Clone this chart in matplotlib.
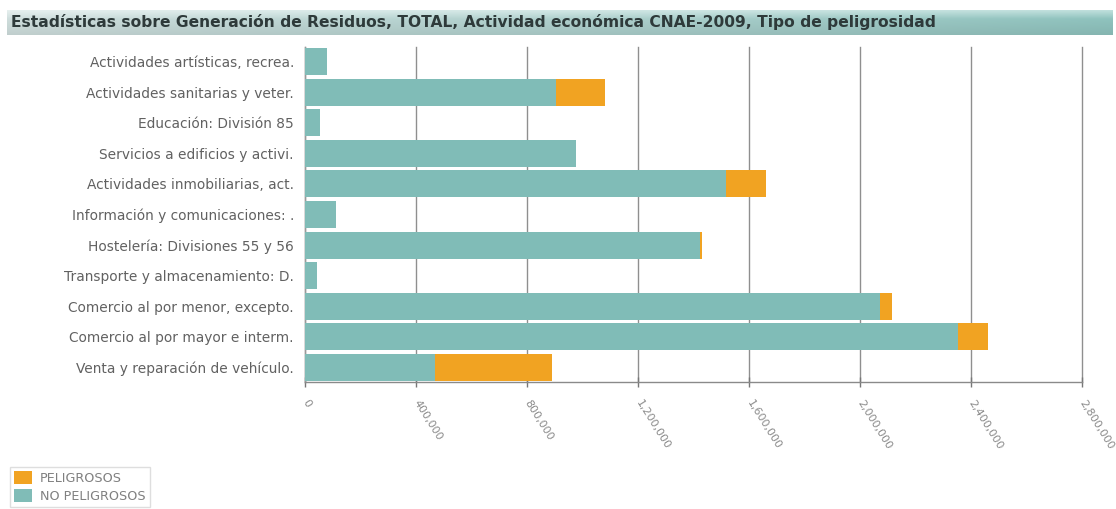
import numpy as np
import matplotlib
matplotlib.use("Agg")
import matplotlib.pyplot as plt
from matplotlib.patches import Patch
from matplotlib.ticker import FuncFormatter, MultipleLocator

# Waste generation by economic activity (tonnes), split by hazard type
categories = [
    "Actividades artísticas, recrea.",
    "Actividades sanitarias y veter.",
    "Educación: División 85",
    "Servicios a edificios y activi.",
    "Actividades inmobiliarias, act.",
    "Información y comunicaciones: .",
    "Hostelería: Divisiones 55 y 56",
    "Transporte y almacenamiento: D.",
    "Comercio al por menor, excepto.",
    "Comercio al por mayor e interm.",
    "Venta y reparación de vehículo.",
]
no_peligrosos = [80000, 905000, 54000, 977000, 1517000, 112000, 1425000,
                 43000, 2072000, 2353000, 468000]
peligrosos = [0, 176000, 0, 0, 144000, 0, 6000, 0, 43000, 108000, 422000]

title = ("Estadísticas sobre Generación de Residuos, TOTAL, "
         "Actividad económica CNAE-2009, Tipo de peligrosidad")

TEAL = "#80bcb7"
ORANGE = "#f1a322"
GRID = "#8f8f8f"
LABEL = "#616161"

W, H = 1116, 509
fig = plt.figure(figsize=(W / 100, H / 100), dpi=100)
fig.patch.set_facecolor("white")

# Title banner with a soft teal gradient
bx0, by0, bx1, by1 = 7, 10, 1113, 35
bar_ax = fig.add_axes([bx0 / W, 1 - by1 / H, (bx1 - bx0) / W, (by1 - by0) / H])
nx, ny = 256, 32
left_c = np.array([0.84, 0.90, 0.895])
right_c = np.array([0.58, 0.79, 0.77])
xs = np.linspace(0, 1, nx)[None, :, None]
ys = np.linspace(0, 1, ny)[:, None, None]
base = left_c * (1 - xs) + right_c * xs
shade = 1.0 - 0.10 * ys  # darker toward the bottom
top_light = np.clip(0.4 * (1 - ys / 0.35), 0, None)
grad = base * shade + (1 - base * shade) * top_light
bar_ax.imshow(np.clip(grad, 0, 1), aspect="auto", extent=[0, 1, 0, 1])
bar_ax.set_axis_off()
bar_ax.text(4 / (bx1 - bx0), 0.5, title, transform=bar_ax.transAxes,
            ha="left", va="center", fontsize=11.2, fontweight="bold",
            color="#2e3a3a", family="DejaVu Sans")

# Main horizontal stacked bar chart
ax_l, ax_r, ax_t, ax_b = 305, 1082, 47, 382
ax = fig.add_axes([ax_l / W, 1 - ax_b / H, (ax_r - ax_l) / W, (ax_b - ax_t) / H])
y = np.arange(len(categories))
ax.barh(y, no_peligrosos, height=0.88, color=TEAL, zorder=3)
ax.barh(y, peligrosos, left=no_peligrosos, height=0.88, color=ORANGE, zorder=3)

ax.set_xlim(0, 2800000)
ax.set_ylim(10.48, -0.48)
ax.xaxis.set_major_locator(MultipleLocator(400000))
ax.xaxis.set_major_formatter(FuncFormatter(lambda v, p: f"{int(v):,}"))
ax.grid(axis="x", color=GRID, linewidth=1.0, zorder=1)
ax.set_axisbelow(True)
for gl in ax.get_xgridlines():
    gl.set_clip_on(False)

ax.set_yticks(y)
ax.set_yticklabels(categories, fontsize=9.9, color=LABEL, family="DejaVu Sans")
ax.tick_params(axis="y", length=0, pad=8)
ax.tick_params(axis="x", direction="inout", length=7, width=1, color="#777777",
               labelsize=8, labelcolor="#8a8a8a", pad=10)
for lbl in ax.get_xticklabels():
    lbl.set_rotation(-58)
    lbl.set_rotation_mode("anchor")
    lbl.set_ha("left")
    lbl.set_va("center")

for side in ("top", "right"):
    ax.spines[side].set_visible(False)
ax.spines["left"].set_color("#9a9a9a")
ax.spines["left"].set_linewidth(1.0)
ax.spines["bottom"].set_color("#8a8a8a")
ax.spines["bottom"].set_linewidth(1.0)

# Legend in the lower-left corner
handles = [Patch(facecolor=ORANGE, edgecolor="none", label="PELIGROSOS"),
           Patch(facecolor=TEAL, edgecolor="none", label="NO PELIGROSOS")]
leg = fig.legend(handles=handles, loc="lower left",
                 bbox_to_anchor=(10 / W, 1 - 507 / H), fontsize=9.2,
                 frameon=True, fancybox=False, edgecolor="#d6d6d6",
                 handlelength=1.4, handleheight=1.2, handletextpad=0.6,
                 labelspacing=0.3, borderpad=0.35, borderaxespad=0)
for t in leg.get_texts():
    t.set_color("#808080")

fig.savefig("out.png", dpi=100, facecolor="white")
